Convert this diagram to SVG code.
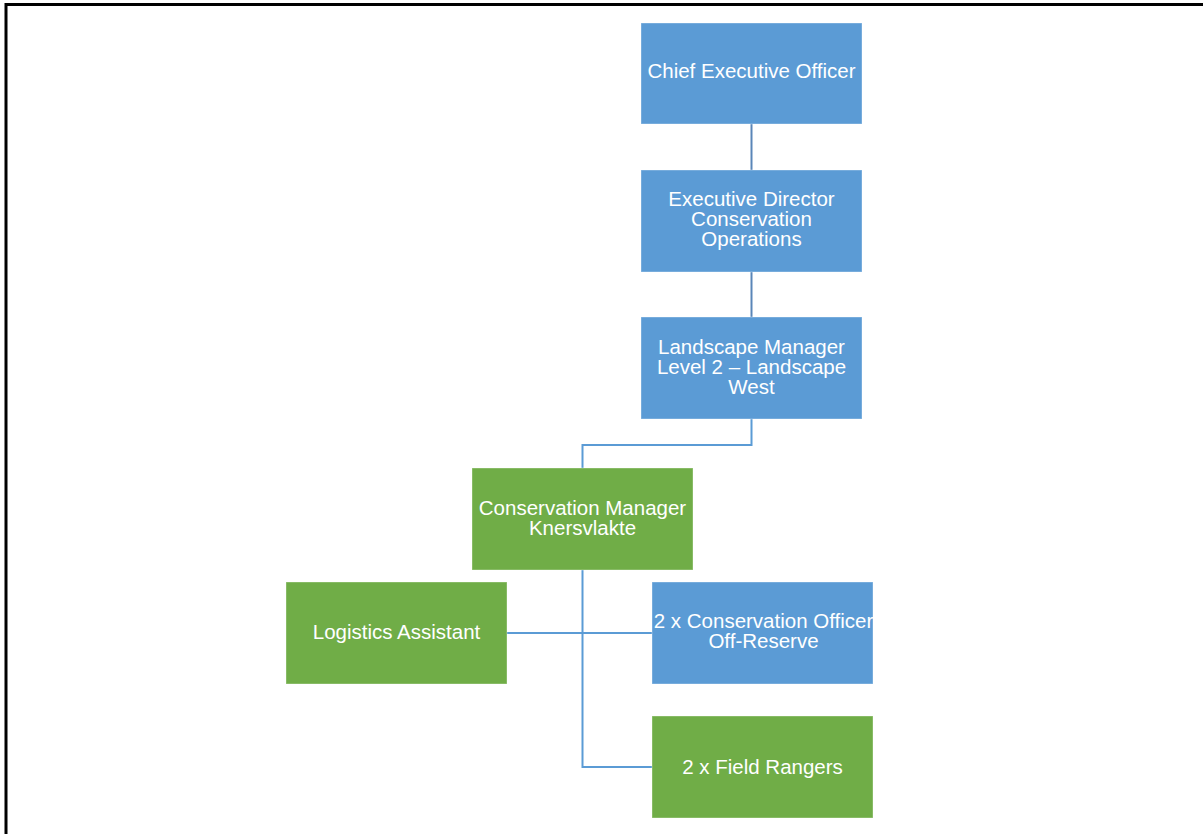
<svg xmlns="http://www.w3.org/2000/svg" width="1203" height="834" viewBox="0 0 1203 834">
  <style>
    .box rect { stroke: #ffffff; stroke-opacity: 0.35; stroke-width: 1; }
    .blue rect { fill: #5b9bd5; }
    .green rect { fill: #70ad47; }
    .box text { fill: #ffffff; font-family: "Liberation Sans", Arial, sans-serif; font-size: 20.5px; text-anchor: middle; }
    .link { fill: none; stroke-width: 2; }
    .upper { stroke: #5a86b8; }
    .lower { stroke: #5b9bd5; }
  </style>
  <defs>
    <clipPath id="clipOfficer"><rect x="652" y="582" width="221" height="102"/></clipPath>
  </defs>
  <rect x="0" y="0" width="1203" height="834" fill="#ffffff"/>
  <!-- frame -->
  <path d="M6,834 V4.5 H1203" fill="none" stroke="#000000" stroke-width="3"/>

  <g id="connectors">
    <line class="link upper" x1="751.5" y1="124" x2="751.5" y2="170"/>
    <line class="link upper" x1="751.5" y1="272" x2="751.5" y2="317"/>
    <path class="link lower" d="M751.5,419 V445 H582.5 V468"/>
    <path class="link lower" d="M582.5,570 V767 H652"/>
    <line class="link lower" x1="507" y1="633" x2="652" y2="633"/>
  </g>

  <g id="ceo" class="box blue">
    <rect x="641" y="23" width="221" height="101"/>
    <text x="751.5" y="78">Chief Executive Officer</text>
  </g>

  <g id="executive-director" class="box blue">
    <rect x="641" y="170" width="221" height="102"/>
    <text x="751.5" y="206">Executive Director</text>
    <text x="751.5" y="226">Conservation</text>
    <text x="751.5" y="246">Operations</text>
  </g>

  <g id="landscape-manager" class="box blue">
    <rect x="641" y="317" width="221" height="102"/>
    <text x="751.5" y="354">Landscape Manager</text>
    <text x="751.5" y="374">Level 2 – Landscape</text>
    <text x="751.5" y="394">West</text>
  </g>

  <g id="conservation-manager" class="box green">
    <rect x="472" y="468" width="221" height="102"/>
    <text x="582.5" y="515">Conservation Manager</text>
    <text x="582.5" y="535">Knersvlakte</text>
  </g>

  <g id="logistics-assistant" class="box green">
    <rect x="286" y="582" width="221" height="102"/>
    <text x="396.5" y="639">Logistics Assistant</text>
  </g>

  <g id="conservation-officer" class="box blue">
    <rect x="652" y="582" width="221" height="102"/>
    <g clip-path="url(#clipOfficer)">
      <text x="763.5" y="628">2 x Conservation Officer</text>
      <text x="763.5" y="648">Off-Reserve</text>
    </g>
  </g>

  <g id="field-rangers" class="box green">
    <rect x="652" y="716" width="221" height="102"/>
    <text x="762.5" y="774">2 x Field Rangers</text>
  </g>
</svg>
